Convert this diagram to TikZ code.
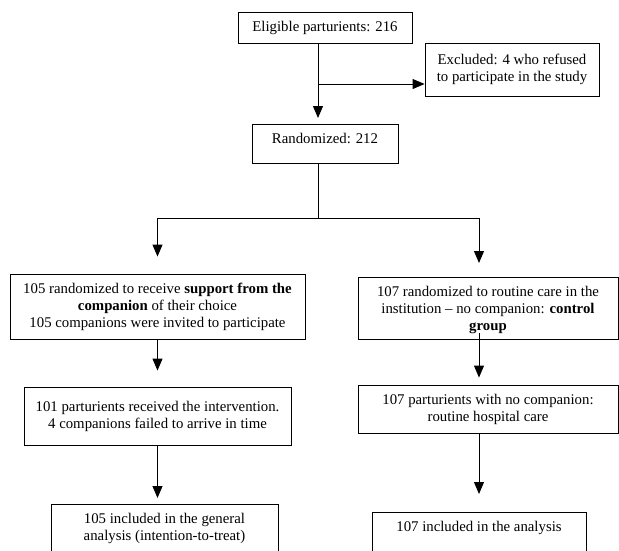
\documentclass[tikz,border=0pt]{standalone}
\usepackage{fontspec}
\setmainfont{Liberation Serif}
\usetikzlibrary{arrows.meta}
\tikzstyle{box} = [rectangle, draw=black, line width=0.9pt, align=center, inner xsep=4pt, inner ysep=0pt, font=\fontsize{14.8}{17}\selectfont]
\tikzstyle{topbox} = [box, anchor=north, inner ysep=9pt]
\tikzstyle{arrow} = [line width=0.9pt, -{Triangle[length=12pt, width=10pt]}]

\begin{document}
\begin{tikzpicture}[x=1pt, y=-1pt]
\useasboundingbox (0,0) rectangle (619,550);
\fill [white] (0,0) rectangle (619,550);
\clip (0,0) rectangle (619,550);

\node at (325, 27.5) (elig) [box, minimum width=174pt, minimum height=31pt] {Eligible parturients: 216};
\node at (512, 69.5) (excl) [box, minimum width=174pt, minimum height=53pt] {Excluded: 4 who refused\\to participate in the study};
\node at (325, 124) (rand) [topbox, minimum width=146pt, text depth=11pt] {Randomized: 212};

\node at (157.5, 306.5) (supp) [box, minimum width=295pt, minimum height=65pt] {105 randomized to receive \textbf{support from the}\\\textbf{companion} of their choice\\105 companions were invited to participate};
\node at (488, 277) (ctrl) [topbox, minimum width=260pt, text depth=-2pt] {107 randomized to routine care in the\\institution -- no companion: \textbf{control}\\\textbf{group}};

\node at (157.5, 416) (interv) [box, minimum width=267pt, minimum height=58pt] {101 parturients received the intervention.\\4 companions failed to arrive in time};
\node at (488, 409) (care) [box, minimum width=260pt, minimum height=48pt] {107 parturients with no companion:\\routine hospital care};

\node at (164.5, 504) (itt) [topbox, minimum width=227pt, text depth=40pt] {105 included in the general\\analysis (intention-to-treat)};
\node at (479, 512) (anal) [topbox, minimum width=214pt, text depth=32pt] {107 included in the analysis};

\coordinate (split) at (318, 84);
\coordinate (fork) at (318, 218);

\draw [arrow, shorten >=6pt] (elig.south -| split) -- (rand.north -| split);
\draw [arrow] (split) -- (split -| excl.west);
\draw [line width=0.9pt] (rand.south -| fork) -- (fork);
\draw [arrow, shorten >=17pt] (fork) -| (supp.north);
\draw [arrow, shorten >=14pt] (fork) -| (ctrl.north -| anal.north);
\draw [arrow, shorten >=16pt] (supp.south) -- (interv.north);
\draw [arrow, shorten <=-7pt, shorten >=7pt] (ctrl.south -| anal.north) -- (care.north -| anal.north);
\draw [arrow, shorten >=6pt] (interv.south) -- (interv.south |- itt.north);
\draw [arrow, shorten >=18pt] (care.south -| anal.north) -- (anal.north);

\end{tikzpicture}
\end{document}
